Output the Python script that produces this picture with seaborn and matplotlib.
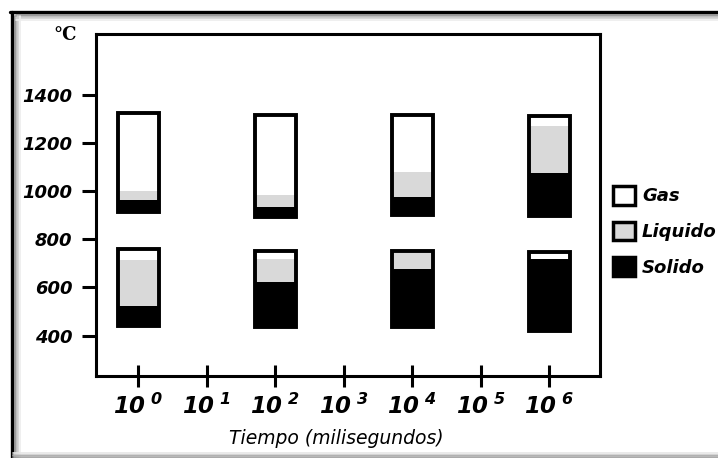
import numpy as np
import pandas as pd
import matplotlib
matplotlib.use("Agg")
import matplotlib.pyplot as plt
import seaborn as sns
from matplotlib.patches import Patch
from matplotlib.lines import Line2D

# exponent of time (ms) where each column stands
tiempo_exp = [0, 2, 4, 6]
tick_exp = [0, 1, 2, 3, 4, 5, 6]

# upper columns (°C): base, top of solid, top of liquid, top of gas
alto_base = [913, 892, 902, 895]
alto_solido = [963, 935, 976, 1073]
alto_liquido = [1001, 983, 1080, 1270]
alto_tope = [1326, 1315, 1315, 1311]

# lower columns (°C)
bajo_base = [438, 434, 434, 420]
bajo_solido = [523, 621, 675, 718]
bajo_liquido = [714, 718, 743, 718]
bajo_tope = [759, 752, 752, 748]

y_ticks = [400, 600, 800, 1000, 1200, 1400]
fases = ["Gas", "Liquido", "Solido"]
colores = {"Gas": "white", "Liquido": "#d9d9d9", "Solido": "black"}

sns.set_theme(style="ticks")
plt.rcParams["font.family"] = ["DejaVu Sans"]
plt.rcParams["text.color"] = "black"
plt.rcParams["mathtext.fontset"] = "custom"
plt.rcParams["mathtext.rm"] = "DejaVu Sans:bold:italic"
plt.rcParams["mathtext.it"] = "DejaVu Sans:bold:italic"
plt.rcParams["mathtext.default"] = "rm"


def capa(ax, bottom, top, color, **kw):
    df = pd.DataFrame({"t": tiempo_exp, "h": np.array(top) - np.array(bottom)})
    sns.barplot(data=df, x="t", y="h", native_scale=True, width=0.3,
                bottom=np.array(bottom), errorbar=None, saturation=1,
                ax=ax, color=color, **kw)


fig = plt.figure(figsize=(7.18, 4.58), dpi=100)
ax = fig.add_axes([96 / 718, 1 - 376 / 458, 504 / 718, 342 / 458])

for base, sol, liq, tope in [(alto_base, alto_solido, alto_liquido, alto_tope),
                             (bajo_base, bajo_solido, bajo_liquido, bajo_tope)]:
    capa(ax, base, sol, colores["Solido"], linewidth=0)
    capa(ax, sol, liq, colores["Liquido"], linewidth=0)
    capa(ax, liq, tope, colores["Gas"], linewidth=0)
    capa(ax, base, tope, "black", fill=False, linewidth=2.8)

ax.set_xlim(-0.62, 6.74)
ax.set_ylim(232, 1652)
ax.set_xticks(tick_exp)
ax.set_xticklabels([r"$10^{\ %d}$" % e for e in tick_exp], fontsize=16.5)
ax.set_yticks(y_ticks)
ax.set_yticklabels([str(v) for v in y_ticks], fontsize=13,
                   fontweight="bold", fontstyle="italic")
ax.set_xlabel("")
ax.set_ylabel("")
ax.tick_params(axis="x", direction="inout", length=16, width=2.2, pad=5, colors="black")
ax.tick_params(axis="y", direction="out", length=10, width=2.2, pad=7, colors="black")
for s in ax.spines.values():
    s.set_visible(True)
    s.set_linewidth(2.2)
    s.set_color("black")

fig.text(336 / 718, 1 - 439 / 458, "Tiempo (milisegundos)", ha="center", va="center",
         fontsize=13.5, fontstyle="italic", color="black")
fig.text(65 / 718, 1 - 35 / 458, "°C", ha="center", va="center",
         fontsize=13, fontweight="bold", family="DejaVu Serif", color="black")

handles = [Patch(facecolor=colores[f], edgecolor="black", linewidth=2.5, label=f) for f in fases]
leg = fig.legend(handles=handles, loc="upper left", bbox_to_anchor=(613 / 718, 1 - 186 / 458),
                 bbox_transform=fig.transFigure, frameon=False, borderpad=0, borderaxespad=0,
                 handlelength=1.2, handleheight=1.2, handletextpad=0.4, labelspacing=0.9,
                 prop={"size": 13, "weight": "bold", "style": "italic"})
for t in leg.get_texts():
    t.set_color("black")

# framed screenshot border with soft shadow
fig.add_artist(Line2D([10 / 718, 1], [1 - 12 / 458] * 2, color="black", lw=2.4))
fig.add_artist(Line2D([12 / 718] * 2, [0, 1 - 12 / 458], color="black", lw=2.4))
for i, g in enumerate(["#888888", "#b0b0b0", "#d0d0d0", "#ececec"]):
    fig.add_artist(Line2D([16 / 718, 1], [1 - (15 + 1.5 * i) / 458] * 2, color=g, lw=1.2))
    fig.add_artist(Line2D([(15 + 1.5 * i) / 718] * 2, [0, 1 - 16 / 458], color=g, lw=1.2))
for i, g in enumerate(["#e6e6e6", "#cccccc", "#aaaaaa", "#999999"]):
    fig.add_artist(Line2D([13 / 718, 1], [(5 - 1.5 * i) / 458] * 2, color=g, lw=1.2))

fig.savefig("out.png", dpi=100)
